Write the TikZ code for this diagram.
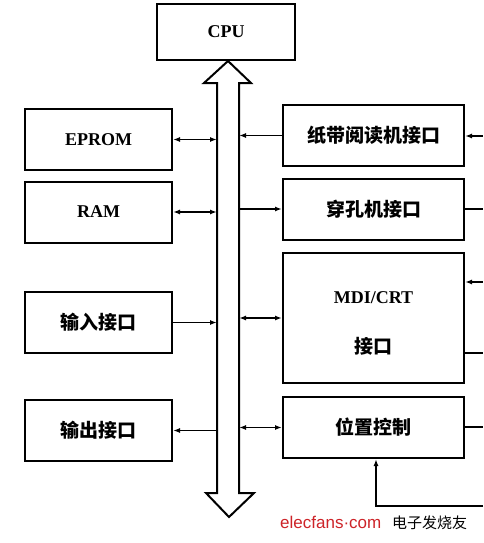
\documentclass[tikz,border=0pt]{standalone}
\usepackage{fontspec}
\setmainfont{Liberation Serif}
\setsansfont{Liberation Sans}
\newfontfamily\cjk{Noto Sans CJK SC}
\usetikzlibrary{arrows.meta}
\definecolor{wmred}{RGB}{205,35,40}
\begin{document}
\begin{tikzpicture}[x=1pt,y=-1pt,
  blk/.style={draw,line width=2pt,inner sep=0pt,align=center},
  lbox/.style={blk,minimum width=147pt,minimum height=61pt},
  rbox/.style={blk,minimum width=181pt,minimum height=61pt},
  lat/.style={font=\fontsize{18}{20}\selectfont\bfseries},
  han/.style={font=\fontsize{19}{21}\selectfont\cjk\bfseries},
  wire/.style={line width=1.9pt},
  both/.style={wire,{Latex[length=7pt,width=5pt]}-{Latex[length=7pt,width=5pt]}},
  tostart/.style={wire,{Latex[length=7pt,width=5pt]}-},
  toend/.style={wire,-{Latex[length=7pt,width=5pt]}}
]
\useasboundingbox (0,0) rectangle (483,543);

% CPU
\node[blk,lat,minimum width=138pt,minimum height=56pt] (cpu) at (226,32) {CPU};

% bus (double-headed hollow arrow)
\draw[line width=2pt,line join=miter,fill=white]
  (228,61) -- (251,83) -- (239,83) -- (239,493) -- (254,493) -- (229,517)
  -- (206,493) -- (217,493) -- (217,83) -- (204,83) -- cycle;
\coordinate (bl) at (217,0);
\coordinate (br) at (239,0);

% left boxes
\node[lbox,lat] (eprom) at (98.5,139.5) {EPROM};
\node[lbox,lat] (ram)   at (98.5,212)   {RAM};
\node[lbox,han] (inp)   at (98.5,322.5) {输入接口};
\node[lbox,han] (outp)  at (98.5,430.5) {输出接口};

% right boxes
\node[rbox,han] (tape)  at (373.5,135.5) {纸带阅读机接口};
\node[rbox,han] (punch) at (373.5,209)   {穿孔机接口};
\node[rbox,minimum height=130pt] (mdi) at (373.5,318) {};
\node[lat,anchor=base] (mdit) at (373.5,303) {MDI/CRT};
\node[han,anchor=base] (mdib) at (373.5,353) {接口};
\node[rbox,han] (pos)   at (373.5,427.5) {位置控制};

% left connectors
\draw[both]     (eprom.east) -- (eprom.east -| bl);
\draw[both]     (ram.east)   -- (ram.east -| bl);
\draw[toend]    (inp.east)   -- (inp.east -| bl);
\draw[tostart]  (outp.east)  -- (outp.east -| bl);

% right connectors
\draw[tostart]  (tape.west -| br)  -- (tape.west);
\draw[toend]    (punch.west -| br) -- (punch.west);
\draw[both]     (mdi.west -| br)   -- (mdi.west);
\draw[both]     (pos.west -| br)   -- (pos.west);

% lines leaving to the right
\coordinate (e1) at (483,136);
\coordinate (e2) at (483,209);
\coordinate (e3) at (483,282);
\coordinate (e4) at (483,353);
\coordinate (e5) at (483,427);
\coordinate (fbc) at (483,506);
\coordinate (fbx) at (376,506);
\draw[tostart] (tape.east |- e1) -- (e1);
\draw[wire]    (punch.east |- e2) -- (e2);
\draw[tostart] (mdi.east |- e3) -- (e3);
\draw[wire]    (mdi.east |- e4) -- (e4);
\draw[wire]    (pos.east |- e5) -- (e5);
\draw[toend]   (fbc) -- (fbx) -- (fbx |- pos.south);

% watermark
\node[anchor=base west,inner sep=0pt,text=wmred,font=\fontsize{17}{19}\selectfont\sffamily] (wm1) at (280,528) {elecfans·com};
\node[anchor=base west,inner sep=0pt,font=\fontsize{15}{17}\selectfont\cjk] (wm2) at (392,528) {电子发烧友};
\end{tikzpicture}
\end{document}
